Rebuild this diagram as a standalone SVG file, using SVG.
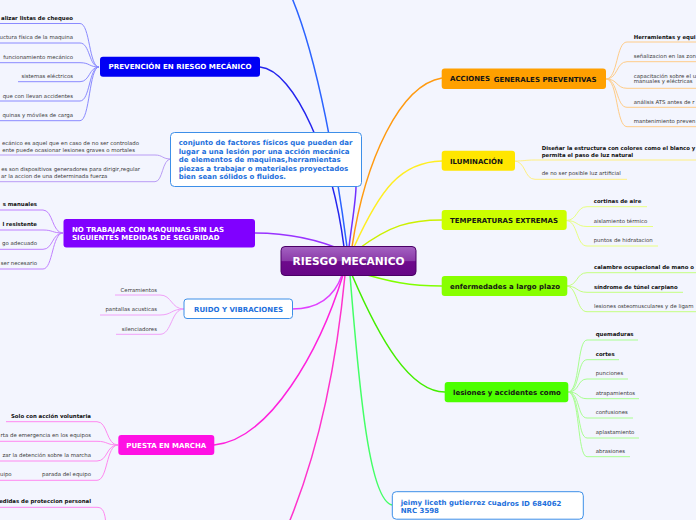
<svg xmlns="http://www.w3.org/2000/svg" width="696" height="520" viewBox="0 0 696 520">
<defs>
<linearGradient id="cg" x1="0" y1="0" x2="0" y2="1">
<stop offset="0" stop-color="#a462c2"/><stop offset="0.5" stop-color="#8a3aa8"/><stop offset="0.52" stop-color="#6e0a8c"/><stop offset="1" stop-color="#660686"/>
</linearGradient>
<style>
text{font-family:"DejaVu Sans",Verdana,sans-serif}
.s{font-size:5.4px;fill:#3a3a3a}
.sb{font-size:5.4px;fill:#111;font-weight:bold}
.bt{font-size:7px;font-weight:bold}
.w{fill:#fff}
.d{fill:#151515}
.bl{fill:#1d6fdc}
.m{fill:none;stroke-width:1.5}
.c{fill:none;stroke-width:1}
.e{text-anchor:end}
.mid{text-anchor:middle}
</style>
</defs>
<rect width="696" height="520" fill="#f3f5fe"/>
<g id="connectors">
<path class="m" stroke="#2b63ff" d="M347,247 C337,170 318,60 292,-2"/>
<path class="m" stroke="#2424ee" d="M344,247 C333,160 295,70 260,67"/>
<path class="m" stroke="#7030ff" d="M349,247 C352,222 356,200 356,186"/>
<path class="m" stroke="#9933ff" d="M255,233 C290,233 320,240 347,252"/>
<path class="m" stroke="#e040ff" d="M292,309 C320,309 335,295 342,275"/>
<path class="m" stroke="#ff22dd" d="M214,445 C270,440 320,350 343,275"/>
<path class="m" stroke="#ff33cc" d="M345,275 C335,380 315,460 288,525"/>
<path class="m" stroke="#ff9a10" d="M352,247 C365,160 400,85 442,78"/>
<path class="m" stroke="#ffee22" d="M354,247 C380,190 400,162 442,161"/>
<path class="m" stroke="#ccf000" d="M357,250 C390,225 410,220 442,220"/>
<path class="m" stroke="#80ff00" d="M357,272 C390,282 410,286 442,286"/>
<path class="m" stroke="#44ee00" d="M352,275 C380,340 410,392 445,392"/>
<path class="m" stroke="#44ff66" d="M350,275 C360,400 370,500 392,505"/>
<g stroke="#8a8aff" class="c">
<path d="M0,23.5 H80 C90,23.5 89,67 99,67"/>
<path d="M0,43 H80 C90,43 89,67 99,67"/>
<path d="M0,62.7 H80 C90,62.7 89,67 99,67"/>
<path d="M18,81.7 H80 C90,81.7 89,67 99,67"/>
<path d="M0,101 H80 C90,101 89,67 99,67"/>
<path d="M0,120.7 H80 C90,120.7 89,67 99,67"/>
</g>
<g stroke="#b99cf5" class="c">
<path d="M0,155 H155 C163,155 162,159 171,159"/>
<path d="M0,181.7 H155 C163,181.7 162,159 171,159"/>
</g>
<g stroke="#c080ff" class="c">
<path d="M0,210 H43 C53,210 52,233 63,233"/>
<path d="M0,230 H43 C53,230 52,233 63,233"/>
<path d="M0,249.3 H43 C53,249.3 52,233 63,233"/>
<path d="M0,269 H43 C53,269 52,233 63,233"/>
</g>
<g stroke="#f0a0f8" class="c">
<path d="M115,295 H160 C172,295 171,309 184,309"/>
<path d="M100,315 H160 C172,315 171,309 184,309"/>
<path d="M116,334.3 H160 C172,334.3 171,309 184,309"/>
</g>
<g stroke="#ff88f0" class="c">
<path d="M6,421.7 H97 C108,421.7 106,445 118,445"/>
<path d="M0,441.3 H97 C108,441.3 106,445 118,445"/>
<path d="M0,461 H97 C108,461 106,445 118,445"/>
<path d="M0,480.3 H97 C108,480.3 106,445 118,445"/>
<path d="M0,507.3 H97 C103,507.3 105,512 106,525"/>
</g>
<g stroke="#ffcc88" class="c">
<path d="M606,79 C618,79 616,42 627,42 H700"/>
<path d="M606,79 C618,79 616,61.7 627,61.7 H700"/>
<path d="M606,79 C618,79 616,88.3 627,88.3 H700"/>
<path d="M606,79 C618,79 616,107.3 627,107.3 H700"/>
<path d="M606,79 C618,79 616,126.7 627,126.7 H700"/>
</g>
<g stroke="#fff080" class="c">
<path d="M514,161 C525,161 525,160 535,160 H700"/>
<path d="M514,161 C526,161 524,179.3 535,179.3 H627"/>
</g>
<g stroke="#e8ff80" class="c">
<path d="M566,220.5 C578,220.5 576,206.7 587,206.7 H647"/>
<path d="M566,220.5 C578,220.5 576,226.5 587,226.5 H653"/>
<path d="M566,220.5 C578,220.5 576,246 587,246 H658"/>
</g>
<g stroke="#c4ff80" class="c">
<path d="M566,286 C578,286 576,272.7 587,272.7 H700"/>
<path d="M566,286 C578,286 576,292.3 587,292.3 H683"/>
<path d="M566,286 C578,286 576,311.7 587,311.7 H700"/>
</g>
<g stroke="#a8ff90" class="c">
<path d="M568,392 C580,392 577,340 587,340 H638"/>
<path d="M568,392 C580,392 577,359.7 587,359.7 H619"/>
<path d="M568,392 C580,392 577,379 587,379 H628"/>
<path d="M568,392 C580,392 577,398.7 587,398.7 H639"/>
<path d="M568,392 C580,392 577,418 587,418 H633"/>
<path d="M568,392 C580,392 577,438 587,438 H639"/>
<path d="M568,392 C580,392 577,456.7 587,456.7 H630"/>
</g>
</g>
<g id="center">
<rect x="281" y="246.5" width="135" height="29" rx="4" fill="url(#cg)" stroke="#4a0066" stroke-width="1"/>
<text x="348.5" y="265" class="mid w" font-size="11" font-weight="bold" textLength="112" lengthAdjust="spacingAndGlyphs">RIESGO MECANICO</text>
</g>
<g id="prevencion">
<rect x="100" y="56.7" width="160" height="20" rx="3" fill="#0000f5"/>
<text x="180" y="69.2" class="bt w mid" textLength="143" lengthAdjust="spacingAndGlyphs">PREVENCIÓN EN RIESGO MECÁNICO</text>
<text x="73" y="19.6" class="sb e">alizar listas de chequeo</text>
<text x="73" y="39.1" class="s e">uctura física de la maquina</text>
<text x="73" y="58.8" class="s e">funcionamiento mecánico</text>
<text x="73" y="78.1" class="s e">sistemas eléctricos</text>
<text x="73" y="97.8" class="s e">que con llevan accidentes</text>
<text x="73" y="117.1" class="s e">quinas y móviles de carga</text>
</g>
<g id="conjunto">
<rect x="170.5" y="132.5" width="191" height="54" rx="4" fill="#fff" stroke="#3d8fe8" stroke-width="1"/>
<g class="bt bl">
<text x="178.7" y="144.8">conjunto de factores físicos que pueden dar</text>
<text x="178.7" y="153.5">lugar a una lesión por una acción mecánica</text>
<text x="178.7" y="161.8">de elementos de maquinas,herramientas</text>
<text x="178.7" y="170.8">piezas a trabajar o materiales proyectados</text>
<text x="178.7" y="179.2">bien sean sólidos o fluidos.</text>
</g>
<text x="139" y="144.6" class="s e">ecánico es aquel que en caso de no ser controlado</text>
<text x="135" y="151.9" class="s e">ente puede ocasionar lesiones graves o mortales</text>
<text x="140" y="171.1" class="s e">es son dispositivos generadores para dirigir,regular</text>
<text x="107.3" y="178.4" class="s e">ar la accion de una determinada fuerza</text>
</g>
<g id="notrabajar">
<rect x="63.5" y="219" width="191.5" height="28.5" rx="3" fill="#8000ff"/>
<text x="72" y="231.9" class="bt w">NO TRABAJAR CON MAQUINAS SIN LAS</text>
<text x="72" y="239.9" class="bt w">SIGUIENTES MEDIDAS DE SEGURIDAD</text>
<text x="37" y="205.9" class="sb e">s manuales</text>
<text x="37" y="225.6" class="sb e">l resistente</text>
<text x="37" y="244.6" class="s e">go adecuado</text>
<text x="37" y="264.6" class="s e">ser necesario</text>
</g>
<g id="ruido">
<rect x="184" y="299" width="108.5" height="19.5" rx="3" fill="#fff" stroke="#3d8fe8" stroke-width="1"/>
<text x="238.5" y="311.8" class="bt bl mid">RUIDO Y VIBRACIONES</text>
<text x="157" y="292.1" class="s e">Cerramientos</text>
<text x="157" y="311.1" class="s e">pantallas acusticas</text>
<text x="157" y="330.9" class="s e">silenciadores</text>
</g>
<g id="puesta">
<rect x="118.3" y="435" width="96" height="20" rx="3" fill="#ff10e4"/>
<text x="166.3" y="447.6" class="bt w mid">PUESTA EN MARCHA</text>
<text x="91" y="417.6" class="sb e">Solo con acción voluntaria</text>
<text x="91" y="436.6" class="s e">rta de emergencia en los equipos</text>
<text x="91" y="456.6" class="s e">zar la detención sobre la marcha</text>
<text x="0" y="475.9" class="s">uipo</text>
<text x="91" y="475.9" class="s e">parada del equipo</text>
<text x="91" y="502.6" class="sb e">edidas de proteccion personal</text>
</g>
<g id="acciones">
<rect x="441.7" y="68.5" width="164.3" height="20.5" rx="3" fill="#ffa000"/>
<text x="450" y="81" class="bt d">ACCIONES<tspan x="493.7" y="82.3">GENERALES PREVENTIVAS</tspan></text>
<text x="633.7" y="38.6" class="sb">Herramientas y equi</text>
<text x="633.7" y="57.9" class="s">señalizacion en las zon</text>
<text x="633.7" y="77.7" class="s">capacitación sobre el u</text>
<text x="633.7" y="83.4" class="s">manuales y eléctricas</text>
<text x="633.7" y="103.6" class="s">análisis ATS antes de r</text>
<text x="633.7" y="122.6" class="s">mantenimiento preven</text>
</g>
<g id="iluminacion">
<rect x="441.7" y="150.7" width="73.3" height="20" rx="3" fill="#ffe600"/>
<text x="450" y="163.5" class="bt d">ILUMINACIÓN</text>
<text x="541.7" y="149.6" class="sb">Diseñar la estructura con colores como el blanco y</text>
<text x="541.7" y="156.9" class="sb">permita el paso de luz natural</text>
<text x="541.7" y="175.1" class="s">de no ser posible luz artificial</text>
</g>
<g id="temperaturas">
<rect x="441.7" y="210" width="125" height="20" rx="3" fill="#ccff00"/>
<text x="450" y="223" class="bt d">TEMPERATURAS EXTREMAS</text>
<text x="593.7" y="202.9" class="sb">cortinas de aire</text>
<text x="593.7" y="222.6" class="s">aislamiento térmico</text>
<text x="593.7" y="241.9" class="s">puntos de hidratacion</text>
</g>
<g id="enfermedades">
<rect x="441.7" y="276" width="125.6" height="20" rx="3" fill="#88ff00"/>
<text x="450" y="288.6" class="bt d">enfermedades a largo plazo</text>
<text x="594" y="268.6" class="sb">calambre ocupacional de mano o</text>
<text x="594" y="288.6" class="sb">síndrome de túnel carpiano</text>
<text x="594" y="307.9" class="s">lesiones osteomusculares y de ligam</text>
</g>
<g id="lesiones">
<rect x="444.7" y="382" width="123.6" height="20.3" rx="3" fill="#4cff00"/>
<text x="453" y="394.6" class="bt d">lesiones y accidentes como</text>
<text x="595.7" y="335.9" class="sb">quemaduras</text>
<text x="595.7" y="355.6" class="sb">cortes</text>
<text x="595.7" y="374.9" class="s">punciones</text>
<text x="595.7" y="394.6" class="s">atrapamientos</text>
<text x="595.7" y="413.9" class="s">confusiones</text>
<text x="595.7" y="433.9" class="s">aplastamiento</text>
<text x="595.7" y="452.6" class="s">abrasiones</text>
</g>
<g id="autor">
<rect x="392.3" y="491.7" width="191" height="27.5" rx="4" fill="#fff" stroke="#3d8fe8" stroke-width="1"/>
<text x="400.7" y="505" class="bt bl">jeimy liceth gutierrez cu<tspan dy="0.6">adros ID 684062</tspan></text>
<text x="400.7" y="513.3" class="bt bl">NRC 3598</text>
</g>
</svg>
